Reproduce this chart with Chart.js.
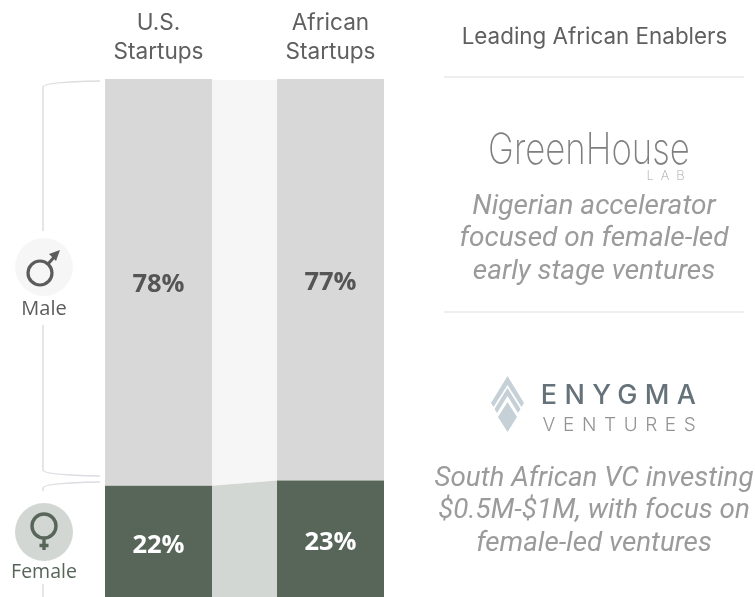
<!DOCTYPE html>
<html>
<head>
<meta charset="utf-8">
<title>Startups by founder gender</title>
<script src="https://cdn.jsdelivr.net/npm/chart.js"></script>
<style>
  html, body { margin: 0; background: #fff; overflow: hidden; }
  #page { position: relative; width: 755px; height: 597px; overflow: hidden; }
  canvas { position: absolute; left: 0; top: 0; }
  .txt { position: absolute; white-space: nowrap; text-align: center; transform: translateX(-50%); }
  .head { left: 594.5px; top: 22px; font: 22.4px Inter, sans-serif; color: #5f5f5f; }
  .note { left: 594px; font: italic 28px/32.4px Roboto, sans-serif; color: #9b9b9b; }
  .rule { position: absolute; left: 444px; width: 300px; height: 2px; background: #eeeeee; }
  .sex { left: 44px; font-family: "Open Sans", sans-serif; }
  svg { position: absolute; left: 0; top: 0; }
</style>
</head>
<body>
<div id="page">
  <canvas id="chart" width="755" height="603"></canvas>

  <svg width="755" height="597">
    <!-- brackets -->
    <path d="M100 81 Q43 82 43 87 V231" fill="none" stroke="#dddddd" stroke-width="1.5"/>
    <path d="M43 325 V470 Q43 475 100 476" fill="none" stroke="#dcdce2" stroke-width="1.5"/>
    <path d="M100 482 Q43 483 43 488 V491" fill="none" stroke="#dcdce2" stroke-width="1.5"/>
    <path d="M43 584 V597" fill="none" stroke="#dcdce2" stroke-width="1.5"/>
    <!-- male icon -->
    <circle cx="44" cy="267" r="29" fill="#f6f6f6"/>
    <circle cx="40" cy="273" r="12" fill="none" stroke="#5c5c5c" stroke-width="3.2"/>
    <path d="M48 264 L56 255" stroke="#5c5c5c" stroke-width="3"/>
    <path d="M60 250 L49 254 L56 261 Z" fill="#5c5c5c"/>
    <!-- female icon -->
    <circle cx="44" cy="532" r="29" fill="#d2d7d3"/>
    <circle cx="44" cy="526" r="12" fill="none" stroke="#58665a" stroke-width="3.4"/>
    <path d="M44 538 V550 M39.5 545.5 H48.5" stroke="#58665a" stroke-width="3.4"/>
    <!-- enygma mark -->
    <g fill="#c6d1d7">
      <path d="M507.5 402 L517 417 L507.5 432 L498 417 Z"/>
      <path d="M507.5 376 L524 403 L521.5 407 L507.5 385 L493.5 407 L491 403 Z"/>
      <path d="M507.5 388 L520.5 409 L518 413 L507.5 396 L497 413 L494.5 409 Z"/>
    </g>
  </svg>

  <div class="txt sex" style="top:294px;font-size:20px;color:#5c5c5c">Male</div>
  <div class="txt sex" style="top:557px;font-size:19.5px;color:#58665a">Female</div>

  <div class="txt head">Leading African Enablers</div>
  <div class="rule" style="top:76px"></div>
  <div class="txt" style="left:589px;top:122px;font:200 43px Inter,sans-serif;color:#7f7f7f;transform:translateX(-50%) scaleX(.81)">GreenHouse</div>
  <div class="txt" style="left:669px;top:167px;font:200 13px Inter,sans-serif;letter-spacing:7px;color:#a8a8a8">LAB</div>
  <div class="txt note" style="top:189px">Nigerian accelerator<br>focused on female-led<br>early stage ventures</div>
  <div class="rule" style="top:311px"></div>
  <div class="txt" style="left:622px;top:378px;font:500 27px Inter,sans-serif;letter-spacing:7.3px;color:#66727a">ENYGMA</div>
  <div class="txt" style="left:623px;top:413px;font:300 19px Inter,sans-serif;letter-spacing:7.6px;color:#939393">VENTURES</div>
  <div class="txt note" style="top:461px;font-size:27.8px">South African VC investing<br>$0.5M-$1M, with focus on<br>female-led ventures</div>
</div>

<script>
const categories = [['U.S.', 'Startups'], ['African', 'Startups']];
const femaleValues = [22, 23];
const maleValues = [78, 77];

const maleColor = '#d8d8d8';
const femaleColor = '#58665a';
const maleBand = '#f6f6f6';
const femaleBand = '#d2d7d3';

// shaded strips joining the two columns
const bandsPlugin = {
  id: 'bands',
  beforeDatasetsDraw(chart) {
    const { ctx } = chart;
    const bottom = chart.getDatasetMeta(0).data;
    const top = chart.getDatasetMeta(1).data;
    const left = bottom[0].x + bottom[0].width / 2;
    const right = bottom[1].x - bottom[1].width / 2;
    const base = chart.scales.y.getPixelForValue(0);

    ctx.save();
    ctx.fillStyle = maleBand;
    ctx.beginPath();
    ctx.moveTo(left, top[0].y + 1);
    ctx.lineTo(right, top[1].y + 1);
    ctx.lineTo(right, bottom[1].y);
    ctx.lineTo(left, bottom[0].y);
    ctx.closePath();
    ctx.fill();

    ctx.fillStyle = femaleBand;
    ctx.beginPath();
    ctx.moveTo(left, bottom[0].y);
    ctx.lineTo(right, bottom[1].y);
    ctx.lineTo(right, base);
    ctx.lineTo(left, base);
    ctx.closePath();
    ctx.fill();
    ctx.restore();
  }
};

// percent labels in the middle of each segment
const percentPlugin = {
  id: 'percent',
  afterDatasetsDraw(chart) {
    const { ctx } = chart;
    ctx.save();
    ctx.font = 'bold 25.5px "Open Sans", sans-serif';
    ctx.textAlign = 'center';
    ctx.textBaseline = 'middle';
    chart.data.datasets.forEach((ds, i) => {
      ctx.fillStyle = i === 0 ? '#ffffff' : '#555555';
      chart.getDatasetMeta(i).data.forEach((bar, j) => {
        const mid = (bar.y + bar.base) / 2 + 2.5;
        ctx.fillText(ds.data[j] + '%', bar.x, mid);
      });
    });
    ctx.restore();
  }
};

new Chart(document.getElementById('chart'), {
  type: 'bar',
  data: {
    labels: categories,
    datasets: [
      { label: 'Female', data: femaleValues, backgroundColor: femaleColor },
      { label: 'Male', data: maleValues, backgroundColor: maleColor }
    ]
  },
  plugins: [bandsPlugin, percentPlugin],
  options: {
    responsive: false,
    animation: false,
    layout: { padding: { left: 72.5, right: 338.5, top: 0, bottom: 2.5 } },
    datasets: { bar: { barPercentage: 0.622, categoryPercentage: 1 } },
    scales: {
      x: {
        position: 'top',
        stacked: true,
        grid: { display: false, drawTicks: false },
        border: { display: false },
        afterFit(scale) { scale.height = 79; },
        ticks: {
          color: '#5f5f5f',
          font: { family: 'Inter', size: 22.6, lineHeight: 1.3 },
          padding: 12,
          maxRotation: 0
        }
      },
      y: {
        display: false,
        stacked: true,
        min: 0,
        max: 100
      }
    },
    plugins: { legend: { display: false }, tooltip: { enabled: false } }
  }
});
</script>
</body>
</html>
